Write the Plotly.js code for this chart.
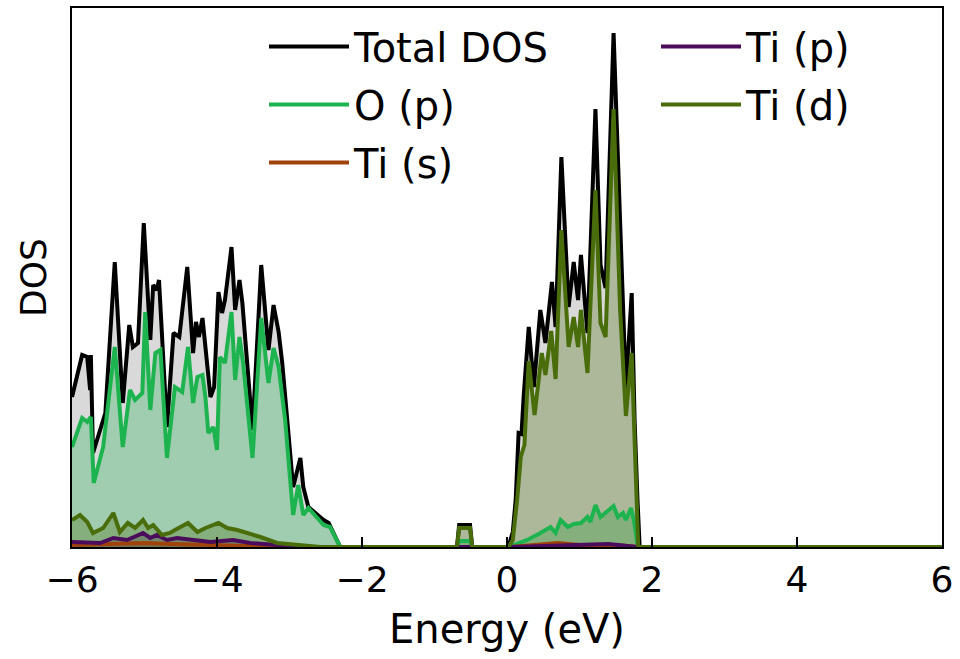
<!DOCTYPE html>
<html>
<head>
<meta charset="utf-8">
<script src="https://cdn.plot.ly/plotly-3.0.1.min.js"></script>
<style>html,body{margin:0;padding:0;background:#fff;}#chart{width:960px;height:659px;}</style>
</head>
<body>
<div id="chart"></div>
<script>
// Energy (eV) and DOS (arb. units)
const energyTotal = [-6.00,-5.86,-5.79,-5.75,-5.74,-5.71,-5.54,-5.41,-5.30,-5.21,-5.16,-5.09,-5.01,-4.92,-4.88,-4.83,-4.80,-4.69,-4.60,-4.52,-4.41,-4.33,-4.29,-4.25,-4.20,-4.18,-4.09,-4.04,-3.98,-3.93,-3.89,-3.80,-3.75,-3.69,-3.65,-3.51,-3.39,-3.29,-3.22,-3.15,-3.10,-2.95,-2.85,-2.81,-2.74,-2.53,-2.46,-2.30,
  -0.69,-0.66,-0.51,-0.48,
  0.02,0.08,0.12,0.16,0.20,0.23,0.30,0.37,0.46,0.53,0.62,0.67,0.75,0.85,0.92,0.98,1.02,1.11,1.22,1.29,1.36,1.47,1.56,1.64,1.72,1.76,1.80,1.83,6.00];
const dosTotal = [7.5,9.6,9.5,7.85,9.6,4.7,6.7,14.25,7.2,11.1,10.0,10.2,16.2,10.35,13.1,12.85,13.35,6.0,10.7,10.5,14.0,9.7,11.25,10.5,11.45,10.75,7.5,8.0,12.75,11.7,12.35,15.0,11.85,13.35,12.2,5.85,14.1,9.85,12.1,10.75,9.2,3.0,4.45,3.0,2.0,1.35,1.2,0.0,
  0.0,1.1,1.1,0.0,
  0.0,0.75,2.35,5.7,5.65,7.55,11.0,8.0,11.85,10.2,13.25,11.0,19.5,12.0,14.25,12.35,14.6,10.7,21.9,14.1,12.95,25.7,15.5,7.9,12.7,6.35,2.35,0.0,0.0];

const energyOp = [-6.00,-5.86,-5.79,-5.74,-5.70,-5.57,-5.41,-5.30,-5.20,-5.13,-5.03,-4.99,-4.92,-4.85,-4.78,-4.69,-4.58,-4.48,-4.40,-4.33,-4.27,-4.20,-4.16,-4.12,-4.05,-4.00,-3.96,-3.89,-3.80,-3.75,-3.69,-3.64,-3.51,-3.39,-3.29,-3.22,-3.15,-3.06,-2.95,-2.88,-2.81,-2.74,-2.53,-2.44,-2.30,
  -0.69,-0.66,-0.51,-0.48,
  0.02,0.09,0.28,0.46,0.60,0.67,0.74,0.84,0.92,1.02,1.11,1.15,1.22,1.29,1.36,1.47,1.53,1.60,1.64,1.71,1.75,1.80,1.83,6.00];
const dosOp = [5.0,6.45,6.25,6.5,3.2,5.0,10.0,5.0,7.85,7.35,7.7,11.75,6.85,9.7,9.85,4.45,8.0,7.75,10.0,7.2,8.5,8.6,7.5,5.7,6.0,4.85,9.5,9.2,11.75,8.35,10.5,9.2,4.45,11.45,8.2,9.95,9.0,6.35,1.6,3.1,1.6,1.95,1.1,1.0,0.0,
  0.0,0.3,0.3,0.0,
  0.0,0.1,0.35,0.7,1.0,0.7,1.35,1.0,1.15,1.2,1.5,1.25,2.1,1.5,1.7,2.05,1.5,1.7,1.35,1.95,1.35,0.1,0.0,0.0];

const energyTis = [-6.00,-5.50,-5.00,-4.60,-4.00,-3.50,-3.00,0.05,0.40,0.70,1.00,1.50,1.80,6.00];
const dosTis = [0.1,0.15,0.2,0.15,0.1,0.05,0.0,0.0,0.1,0.2,0.1,0.1,0.0,0.0];

const energyTip = [-6.00,-5.61,-5.43,-5.24,-5.02,-4.92,-4.83,-4.69,-4.55,-4.33,-4.09,-3.78,-3.54,-3.17,-2.85,0.05,0.50,1.00,1.40,1.80,6.00];
const dosTip = [0.25,0.2,0.45,0.35,0.7,0.45,0.6,0.35,0.45,0.35,0.25,0.35,0.2,0.1,0.0,0.0,0.05,0.1,0.15,0.0,0.0];

const energyTid = [-6.00,-5.89,-5.79,-5.71,-5.57,-5.43,-5.34,-5.23,-5.13,-5.02,-4.95,-4.88,-4.76,-4.65,-4.58,-4.40,-4.27,-4.16,-3.98,-3.86,-3.72,-3.58,-3.40,-3.17,-2.85,-2.57,
  -0.69,-0.66,-0.51,-0.48,
  0.02,0.08,0.14,0.19,0.24,0.30,0.38,0.48,0.53,0.61,0.67,0.75,0.85,0.92,0.98,1.02,1.11,1.22,1.29,1.36,1.47,1.56,1.64,1.72,1.76,1.81,6.00];
const dosTid = [1.35,1.6,1.25,0.7,0.95,1.7,0.75,1.2,0.95,1.35,0.95,1.1,0.6,0.7,0.85,1.2,0.75,0.95,1.2,0.95,0.85,0.7,0.5,0.2,0.1,0.0,
  0.0,0.95,0.95,0.0,
  0.0,0.35,2.35,4.5,5.1,9.3,6.6,9.7,8.6,10.8,8.4,15.85,10.0,11.5,10.0,11.85,8.7,17.85,11.2,10.5,21.9,11.85,6.55,9.7,5.35,0.0,0.0];

const xTicks = [-6,-4,-2,0,2,4,6];

const series = [
  {name:'Total DOS', x:energyTotal, y:dosTotal, color:'#000000', fill:'rgba(0,0,0,0.15)', legend:'legend'},
  {name:'O (p)', x:energyOp, y:dosOp, color:'#1db450', fill:'rgba(29,180,80,0.3)', legend:'legend'},
  {name:'Ti (s)', x:energyTis, y:dosTis, color:'#a0430a', fill:'rgba(160,67,10,0.3)', legend:'legend'},
  {name:'Ti (p)', x:energyTip, y:dosTip, color:'#4b0c5c', fill:'rgba(75,12,92,0.3)', legend:'legend2'},
  {name:'Ti (d)', x:energyTid, y:dosTid, color:'#4a6d0c', fill:'rgba(74,109,12,0.3)', legend:'legend2'}
];

const traces = [];
series.forEach(s => {
  traces.push({x:s.x, y:s.y, type:'scatter', mode:'lines', fill:'tozeroy', fillcolor:s.fill,
    line:{width:0, color:s.color}, showlegend:false, hoverinfo:'skip'});
});
series.forEach(s => {
  traces.push({x:s.x, y:s.y, type:'scatter', mode:'lines', name:s.name, legend:s.legend,
    legendgroup:s.name, line:{width:4, color:s.color}});
});

const font = 'DejaVu Sans, sans-serif';
const plotL = 72, plotR = 942, plotT = 8, plotB = 547;
const px = v => (v - plotL) / (plotR - plotL);
const py = v => (plotB - v) / (plotB - plotT);
const legendFont = {family:font, size:40, color:'#000'};
const layout = {
  width:960, height:659,
  margin:{l:plotL, r:960-plotR, t:plotT, b:659-plotB, autoexpand:false},
  paper_bgcolor:'#ffffff', plot_bgcolor:'#ffffff',
  font:{family:font, color:'#000000'},
  xaxis:{range:[-6,6], tickvals:xTicks, ticks:'inside', ticklen:10, tickwidth:1.5, tickcolor:'#000',
    showline:true, mirror:true, linewidth:2, linecolor:'#000', showgrid:false, zeroline:false,
    tickfont:{family:font, size:36, color:'#000'}, automargin:false,
    title:{text:'Energy (eV)', font:{family:font, size:40, color:'#000'}, standoff:16}},
  yaxis:{range:[0,26.95], showticklabels:false, ticks:'', showline:true, mirror:true, linewidth:2,
    linecolor:'#000', showgrid:false, zeroline:false, automargin:false,
    title:{text:'DOS', font:{family:font, size:36, color:'#000'}, standoff:12}},
  legend:{xref:'paper', yref:'paper', x:px(264), y:py(14), xanchor:'left', yanchor:'top',
    font:legendFont, bgcolor:'rgba(0,0,0,0)', itemwidth:80,
    tracegroupgap:3, traceorder:'grouped'},
  legend2:{xref:'paper', yref:'paper', x:px(656), y:py(14), xanchor:'left', yanchor:'top',
    font:legendFont, bgcolor:'rgba(0,0,0,0)', itemwidth:80,
    tracegroupgap:3, traceorder:'grouped'},
  showlegend:true
};

Plotly.newPlot('chart', traces, layout, {staticPlot:true, displayModeBar:false});
</script>
</body>
</html>
